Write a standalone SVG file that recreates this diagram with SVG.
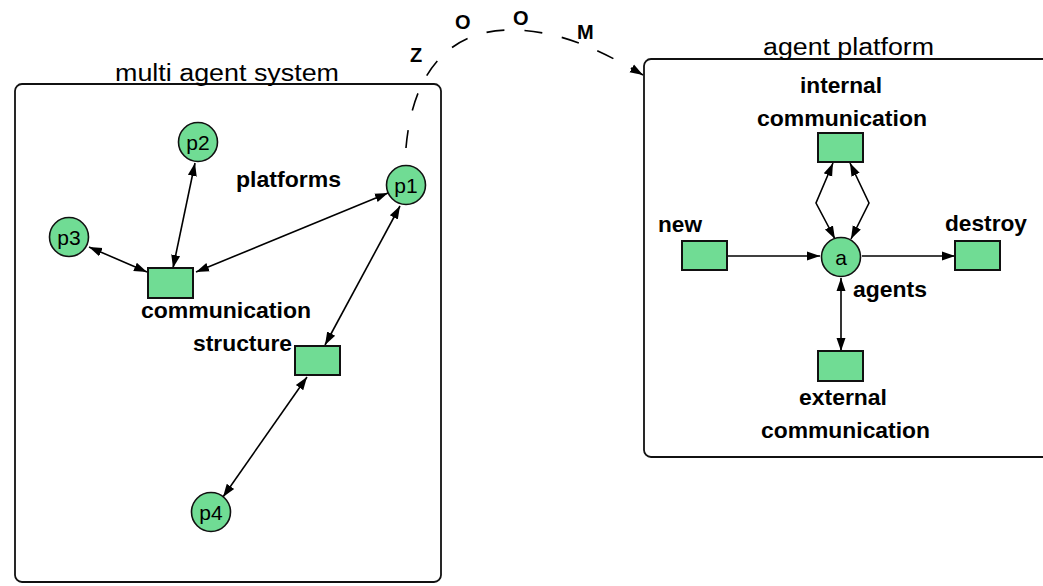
<svg xmlns="http://www.w3.org/2000/svg" width="1043" height="586" viewBox="0 0 1043 586">
<defs>
<marker id="ah" markerUnits="userSpaceOnUse" markerWidth="14" markerHeight="12" viewBox="0 0 14 12" refX="13" refY="6" orient="auto-start-reverse">
<path d="M0,1.5 L13,6 L0,10.5 Z" fill="#000"/>
</marker>
</defs>
<style>
.box{fill:#fff;stroke:#111;stroke-width:1.8}
.pl{fill:#70dc94;stroke:#111;stroke-width:1.6}
.tr{fill:#70dc94;stroke:#111;stroke-width:2}
.c{fill:none;stroke:#000;stroke-width:1.6}
.bi{marker-start:url(#ah);marker-end:url(#ah)}
.un{marker-end:url(#ah)}
.t{font-family:"Liberation Sans",Arial,sans-serif;fill:#000}
.title{font-size:23px}
.lbl{font-size:21.5px;font-weight:bold}
.pn{font-size:21px}
.zm{font-size:20px;font-weight:bold}
</style>
<rect width="1043" height="586" fill="#fff"/>
<g id="multi-agent-system">
<rect class="box" x="15" y="84" width="426" height="498" rx="7"/>
<text class="t title" x="115" y="81" textLength="224" lengthAdjust="spacingAndGlyphs">multi agent system</text>
</g>
<g id="agent-platform">
<rect class="box" x="644" y="59" width="420" height="398" rx="7"/>
<text class="t title" x="763" y="55" textLength="171" lengthAdjust="spacingAndGlyphs">agent platform</text>
</g>
<g id="connectors">
<line class="c bi" x1="195" y1="163" x2="173" y2="268"/>
<line class="c bi" x1="89" y1="247" x2="147" y2="272"/>
<line class="c bi" x1="388" y1="193" x2="196" y2="272"/>
<line class="c bi" x1="400" y1="206" x2="325" y2="345"/>
<line class="c bi" x1="307" y1="377" x2="223" y2="497"/>
<line class="c un" x1="727" y1="256" x2="820" y2="256"/>
<line class="c un" x1="862" y1="256" x2="955" y2="256"/>
<line class="c bi" x1="841" y1="278" x2="841" y2="351"/>
<polyline class="c bi" points="833,163 816,203 835,239"/>
<polyline class="c bi" points="850,163 869,203 851,239"/>
<path class="c un" d="M 405 165 C 408 60, 460 30, 510 30 C 560 30, 600 50, 643 75" stroke-dasharray="18 20" stroke-dashoffset="21"/>
</g>
<g id="p2"><circle class="pl" cx="198" cy="142" r="19.5"/><text class="t pn" x="198" y="149.5" text-anchor="middle">p2</text></g>
<g id="p1"><circle class="pl" cx="406" cy="185" r="19.5"/><text class="t pn" x="406" y="192.5" text-anchor="middle">p1</text></g>
<g id="p3"><circle class="pl" cx="69" cy="237" r="19.5"/><text class="t pn" x="69" y="244.5" text-anchor="middle">p3</text></g>
<g id="p4"><circle class="pl" cx="211" cy="512" r="19.5"/><text class="t pn" x="211" y="519.5" text-anchor="middle">p4</text></g>
<g id="comm-structure-1"><rect class="tr" x="148" y="268" width="45" height="30"/></g>
<g id="comm-structure-2"><rect class="tr" x="295" y="346" width="45" height="29"/></g>
<g id="agents"><circle class="pl" cx="841" cy="257" r="19.5"/><text class="t pn" x="841" y="264.5" text-anchor="middle">a</text></g>
<g id="internal-communication"><rect class="tr" x="818" y="133" width="45" height="29"/></g>
<g id="new"><rect class="tr" x="682" y="241" width="45" height="29"/></g>
<g id="destroy"><rect class="tr" x="955" y="241" width="45" height="29"/></g>
<g id="external-communication"><rect class="tr" x="818" y="351" width="45" height="30"/></g>
<g id="labels">
<text class="t lbl" x="236" y="187" textLength="105" lengthAdjust="spacingAndGlyphs">platforms</text>
<text class="t lbl" x="141" y="318" textLength="170" lengthAdjust="spacingAndGlyphs">communication</text>
<text class="t lbl" x="193" y="351" textLength="99" lengthAdjust="spacingAndGlyphs">structure</text>
<text class="t lbl" x="800" y="93" textLength="82" lengthAdjust="spacingAndGlyphs">internal</text>
<text class="t lbl" x="757" y="126" textLength="170" lengthAdjust="spacingAndGlyphs">communication</text>
<text class="t lbl" x="658" y="232" textLength="44" lengthAdjust="spacingAndGlyphs">new</text>
<text class="t lbl" x="945" y="231" textLength="82" lengthAdjust="spacingAndGlyphs">destroy</text>
<text class="t lbl" x="853" y="297" textLength="74" lengthAdjust="spacingAndGlyphs">agents</text>
<text class="t lbl" x="799" y="405" textLength="88" lengthAdjust="spacingAndGlyphs">external</text>
<text class="t lbl" x="761" y="438" textLength="169" lengthAdjust="spacingAndGlyphs">communication</text>
<text class="t zm" x="410" y="62">Z</text>
<text class="t zm" x="455" y="29">O</text>
<text class="t zm" x="513" y="25">O</text>
<text class="t zm" x="577" y="39">M</text>
</g>
</svg>
